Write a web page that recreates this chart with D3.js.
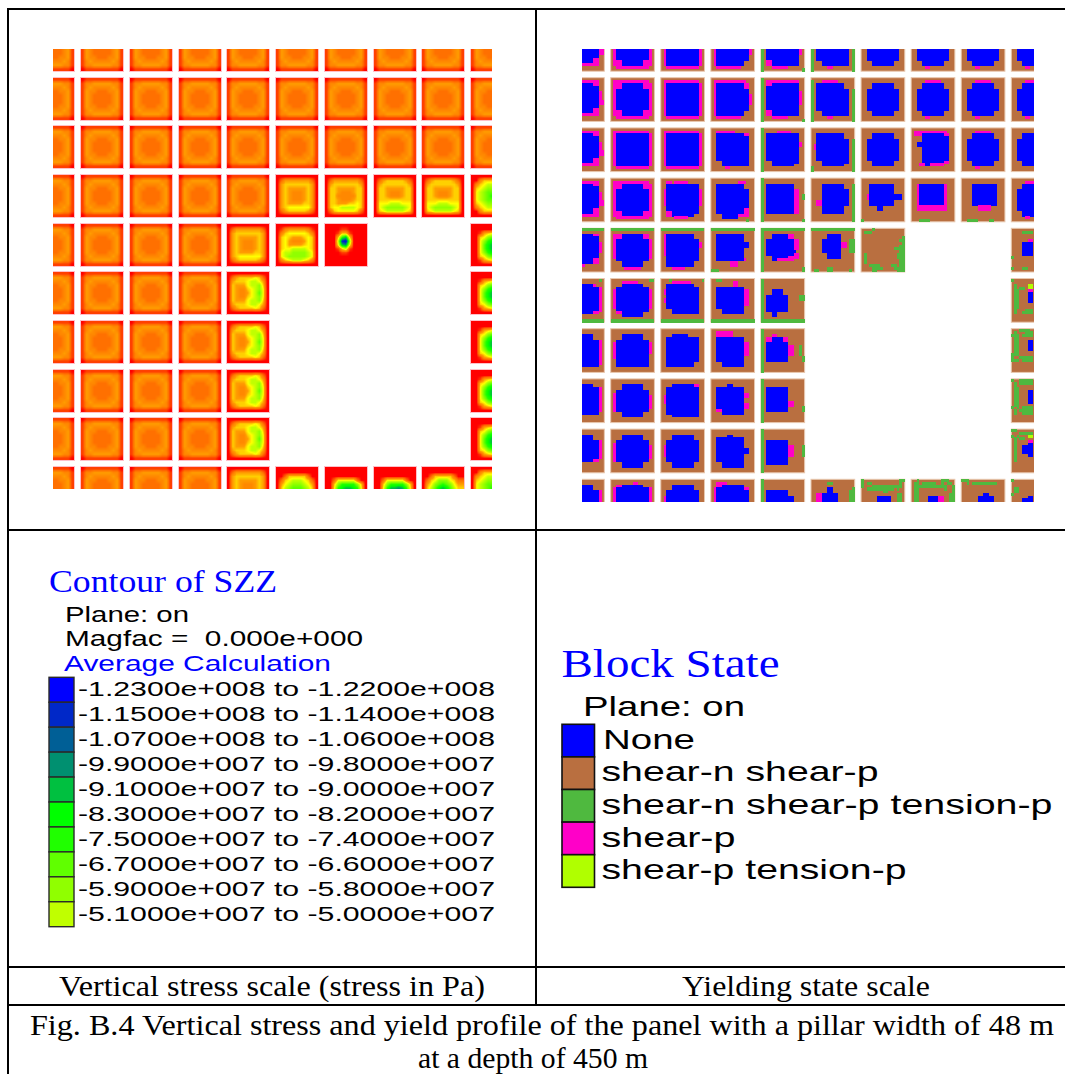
<!DOCTYPE html>
<html><head><meta charset="utf-8">
<script src="https://cdn.jsdelivr.net/npm/d3@7"></script>
<style>html,body{margin:0;background:#fff}svg{display:block}text{white-space:pre}</style></head>
<body><div id="chart"></div>
<script>
// ---------- stress panel data ----------
const stressLevels=[-4e6,-10e6,-18e6,-25e6,-31e6,-37e6,-43e6,-51e6,-59e6,-67e6,-75e6,-83e6,-91e6,-99e6,-107e6,-115e6,-123e6];
const scaleValues=[-123e6,-115e6,-107e6,-99e6,-91e6,-83e6,-75e6,-67e6,-59e6,-51e6,-43e6,-37e6,-31e6,-25e6,-18e6,-10e6,-4e6];
const scaleColors=["#0000ff","#0028c8","#005f96","#009070","#00c040","#00ff00","#20ff00","#60ff00","#90ff00","#c0ff00","#ffff00","#ffd000","#ff9c00","#ff8800","#ff7000","#ff4000","#ff0000"];
const stressTiles={
a:["01111111110","13344444331","13433333431","14332223341","14322222341","14322222341","14322222341","14332223341","13433333431","13344444331","01111111110"],
b:["00000000000","02444444420","04555555540","04544444540","04543334540","04543334540","04543334540","04544445540","04566666640","02455555420","00000000000"],
c:["00000000000","02444444420","04555555540","05544444550","05543334550","05533333550","05543334550","05544455650","05667777650","02566666520","00000000000"],
d:["00000000000","02455555420","04555555540","05544444550","05543334550","05543334550","05555555550","06667776660","06788888760","05677777650","00000000000"],
e:["00000000000","01344444310","03566666530","05654445650","05643334650","05644445650","05667777650","06778888760","06788888760","03567776530","00000000000"],
f:["00000000000","00001100000","00015510000","0005ac50000","0007fg80000","0006cd60000","00015710000","00001100000","00000000000","00000000000","00000000000"],
g:["00000000000","02455556520","04555677640","05444677850","05433567860","05433467960","05433567860","05444677850","04555677640","02455556520","00000000000"],
h:["00000000000","00000000000","00145666541","0056899a965","0068abcba86","0069bcdcb96","0069bcdcb96","0068abcba86","0056899a865","00145666541","00000000000"],
i:["00000000000","00355555530","03567777653","05678888765","06789998876","06789a99876","06789998876","05678888765","03567777653","00355555530","00000000000"],
k:["00000000000","00000000000","00255555200","02567776520","04678887640","05789998750","05789998750","05789998750","04678887640","02567776520","00000000000"],
m:["00000000000","00000000000","00000000000","00266666200","0058aaaa850","006abccba60","006bcddcb60","006bcddcb60","006bcddcb60","006abccba60","00000000000"],
n:["00000000000","00000000000","00000000000","00266666200","0058aaaa850","006accdca60","006bdeedb60","006bdeedb60","006bdeedb60","006abccba60","00000000000"],
o:["00000000000","00000000000","00255555200","0256888652","04689a9864","0579bcb975","0579bcb975","0579bcb975","04689a9864","0256888652","00000000000"]
};
const stressLayout=["aaaaaaaaaa","aaaaaaaaaa","aaaaaaaaaa","aaaaabcddi","aaaabef  h","aaaag    h","aaaag    h","aaaag    h","aaaag    h","aaaabkmnoi"];
const stressLegendLow=[-123e6,-115e6,-107e6,-99e6,-91e6,-83e6,-75e6,-67e6,-59e6,-51e6];
const stressLegendLabels=["-1.2300e+008 to -1.2200e+008","-1.1500e+008 to -1.1400e+008","-1.0700e+008 to -1.0600e+008","-9.9000e+007 to -9.8000e+007","-9.1000e+007 to -9.0000e+007","-8.3000e+007 to -8.2000e+007","-7.5000e+007 to -7.4000e+007","-6.7000e+007 to -6.6000e+007","-5.9000e+007 to -5.8000e+007","-5.1000e+007 to -5.0000e+007"];
// ---------- block state data ----------
const stateKeys=["N",".","G","P","Y"];
const stateNames=["None","shear-n shear-p","shear-n shear-p tension-p","shear-p","shear-p tension-p"];
const stateColors=["#0000ff","#b96f40","#4fb93f","#ff00c8","#b0ff00"];
const E16="................";
const stateTiles={
A:[E16,".PPPPPPPPPPPPP..",".PPPNNNNNNNNPPP.*2",".PNNNNNNNNNNNNP.*8",".PPPNNNNNNNNPPP.*2","..PPPPPPPPPPPP.."],
B:[E16,".PPPPPPPPPPPPP..",".PNNNNNNNNNNNNP.*12","..PPPPPPPPPPPP.."],
C:[E16,".PPPPPPPPPPPP...",".PNNNNNNNNNNPP..*2",".PNNNNNNNNNNNN..*2",".PNNNNNNNNNNNNP.*4",".PNNNNNNNNNNNN..*2",".PNNNNNNNNNN....*2","..PPPPPPPPP....."],
D:["G...............","G.PPPPPPPPPPPP..","G.PPNNNNNNNNNN..","G.NNNNNNNNNNNN..*2","G.NNNNNNNNNNNNP.*5","G.NNNNNNNNNNNN..*2","G.PPNNNNNNNNNN..*2","G...PPPPPP......","G..............G"],
E:[E16,"..PPPPPPP.......","..NNNNNNNNNNPP..","..NNNNNNNNNNNN..*9","....NNNNNNNNNN..*2",".....PP........."],
F:["G...............","G.....PPPPP.....","G.NNNNNNNNNNNN..*3","G.NNNNNNNNNNNNP.*2","G.NNNNNNNNNNNN..*5","G...NNNNNNNNNN..","G...NNNNNNNN....","G...............*2"],
G:[E16,"..PP.PPPPP......","..NNNNNNNNNNNN..*2",".PNNNNNNNNNNNNP.*6","..NNNNNNNNNNNN..*2","..PPNNNNNNNNNN..","..PPNNNNNNNN....",".....PPPPP......"],
H:[E16,"..........PPP...","..NNNNNNNNNN....*2","..NNNNNNNNNNNN..*7","..NNNNNNNNNNPP..*2","....NNNNNNPPPP..","....NNNNNN......",".............G.."],
I:["G...............*2","G.NNNNNNNNNN....*2","G.NNNNNNNNNNPP..*2","G.NNNNNNNNNNPP.G*2","G.NNNNNNNNNNPP..*5","G...............*2","G..............G"],
J:[E16,".....PPPPPP.....","....NNNNNNNN....*2","..NNNNNNNNNNNN..*8","....NNNNNNNN....*2",".....PP........."],
K:[E16+"*2","..NNNNNNNNNN....*2","..NNNNNNNNNNNN.G*2",".PNNNNNNNNNNNN.G*2","..NNNNNNNNNNNN.G*4","....NNNNNNNNNN.G","....NNNNNNNN...G","G..............G*2"],
L:[E16+"*2","....NNNNNNNN....*2","..NNNNNNNNNNNN..*8","....NNNNNNNN....*2"],
M:[E16,".PPPPPPPPPPPP...",".PPPNNNNNNNNPP..","....NNNNNNNNNN..*2","..NNNNNNNNNNNN..*2","....NNNNNNNNNN..*5","....NNNNNNNNPP..","...PPNNPPPPP...."],
N:[E16+"*2","....NNNNNNNN...G*2","....NNNNNNNNNN.G*4","..PPNNNNNNNNNN.G*2","....NNNNNNNN...G*3","...............G*3"],
O:[E16+"*2","...NNNNNNNNN....*4","..PNNNNNNNNNNNN.*2","...NNNNNNNNN....*2","......NN........*2",E16+"*3","G..............."],
P:[E16+"*2","..PNNNNNNNNNP...*8","..PPPPPPPPPPP...*2",E16+"*3","...GGGG........."],
Q:[E16+"*2","....NNNNNNNNN...*8","......PPPPP.....*2",E16+"*3","..GGGG....GG...."],
R:["GGGGGGGGGGGGGGGG",E16,".PPPNNNNNNNNPP..*2",".PNNNNNNNNNNNNP.*7","..NNNNNNNNNNNN..","....NNNNNNNN....*2",".....PPPPPP.....",E16],
S:["GGGGGGGGGGGGGGGG",E16,".PNNNNNNNNNN....*2",".PNNNNNNNNNNNN..",".PNNNNNNNNNNNNP.*2",".PNNNNNNNNNNNN..*3","..NNNNNNNNNNNN..*2","..NNNNNNNNNN....*2","....PPPPP.......",E16],
T:["GGGGGGGGGGGGGGGG",E16,"..NNNNNNNNNN....*3","..NNNNNNNNNNNN..*2","..NNNNNNNNNN....*4","..NNNNNNNNNNP...",".......PPP......*2",E16,"GGG............."],
U:["GGGGGGGGGGGGGGGG","G...............","G...NNNNNNPP....*2","G.NNNNNNNNNNPP..*4","G.NNNNNNNNNNN...","G.NNNNNNNNNNPP..","G...NNNNNNPPPP..","G...NNPPPPPP....","G...............*2","G..............G","G..............G","G.............GG"],
V:["GGGGGGGGGGGGGGGG",E16,"......NNNNN.....*2","....NNNNNNN...GG","....NNNNNNNPP.GG*2","....NNNNNNN...GG*2","......NNNNN.....*2",E16+"*3","......GG........",".GG...GG......G."],
W:["....G...........",".GGG............",E16,"...............G","..............GG","...............G","..............GG","............GGGG","..............GG",".G...........GGG",".G...........GGG",".G............GG",".G............GG","...GGGG....GG.GG","....GGGG....GGGG","....GG.......GGG"],
X:["G...............*4","G...NNNN........*2","G.NNNNNNNN....GG*2","G.NNNNNNNN......*4","G...NN..........*2","G...............","GGGGGGGGGGGGGGGG"],
Y:["G...............*2","G...PP..........","G.PPNNNNPP......*2","G.NNNNNNNN......","G.NNNNNNNNPP..G.*4","G.NNNNNNNN.....G*2","G...............*4"],
Z:["G...............*3","G.NNNNNNNN......*5","G.NNNNNNNNPP....*2","G.NNNNNNNN.....G*2","G...............*4"],
"1":["G...............*4","G.NNNNNNNN......*2","G.NNNNNNNNPP...G*4","G.NNNNNNNN......*3","G...............*3"],
"2":[E16,"G...PPPPPP......","G.NNNNNNNNNN....*2","G.NNNNNNNNNNNN.G*8","G...NNNNNNNNNN.G*2","G.....PP.......G","G..............G"],
a:[E16,".PPPPPPPPPPPPP..","NNNNNNNNNNNNPP..","NNNNNNNNNNNNNN..*2","NNNNNNNNNNNNNNP.*3","NNNNNNNNNNNNNNPP*2","NNNNNNNNNNNNNN..","NNNNNNNNNNNNPP..*2","PPPPPPPPPPPPPP.."],
c:[E16+"*2","NNNNNNNNNNNN....*2","NNNNNNNNNNNNNNP.*9","NNNNNNNNNNNNNN.."],
d:[E16,"PPPPPPP.........","NNNNNNNNNNNN....","NNNNNNNNNNNNNNP.*9","NNNNNNNNNNNNNN.."],
e:[E16+"*2","NNNNNNNNNNNN....*2","NNNNNNNNNNNNNNP.*7","NNNNNNNNNNNNPP..","PPPPPP.........."],
f:[E16,"PPPPPP..........","NNNNNNNNNNNN....*2","NNNNNNNNNNNNNNP.*6"],
g:["GGGGGGGGGGGGGGGG",E16,"NNNNNNNNNNNNPP..","NNNNNNNNNNNNNN..*2","NNNNNNNNNNNNNNP.*4","NNNNNNNNNNNNNN..*2","NNNNNNNNNNNNPP..*2","PPPPPPPPP......."],
h:["......G.......G.","PPPPPPPP........","NNNNNNNNNNNNP...","NNNNNNNNNNNNNNP.*9","NNNNNNNNNNNNPP..",E16,E16,"GGGGGGGGGGGGGGGG"],
i:["..............GG","....PPPPPP......","....NNNNNNNN....","..NNNNNNNNNNNN..",".PNNNNNNNNNNNNP.*7","..NNNNNNNNNNNN..","..PPNNNNNNNN....","....NNNNNNNN....",E16,"GGGGGGGGGGGGGGGG"],
j:["...G...........G","....PPPPPPP.....","..NNNNNNNNNN....","..NNNNNNNNNNNN..",".PNNNNNNNNNNNN..*2","..NNNNNNNNNNNN..",".PNNNNNNNNNNNN..*2","..NNNNNNNNNNNN..*2","....NNNNNNNNNN..*2",E16+"*2","GGGGGGGGGGGGGGGG"],
k:["..GG............","........PP......*2","..NNNNNNNNNN....","..NNNNNNNNNNPP..*6","..NNNNNNNNNN....","....NNNNNNNN....*2",E16+"*2","GGGGGGGGGGGGGGGG"],
l:[E16+"*2","....NNNNNNNN....*2","..NNNNNNNNNNNN..",".PNNNNNNNNNNNNP.*4",".PNNNNNNNNNNNN..*2","..NNNNNNNNNNNN..*3"],
m:[E16+"*2","....NNNNNNNN....*2","..NNNNNNNNNNNN..",".PNNNNNNNNNNNN..",".PNNNNNNNNNNNNP.*5",".PNNNNNNNNNNNN..","....NNNNNNNN....*2"],
o:[E16+"*2","....NNNNNNNNPP..","..NNNNNNNNNNNN..*3",".PNNNNNNNNNNNN..*3","..NNNNNNNNNNNN..*4","....NNNNNNNNNN.."],
p:[E16+"*2","....NNNNNNNN....*2","..NNNNNNNNNNNN..*2",".PNNNNNNNNNNNN..*4","..NNNNNNNNNNNN..*2","....NNNNNNNN....*2"],
q:[E16+"*2","......NN........","..NNNNNNNNNN....*2","..NNNNNNNNNNPP..*2","..NNNNNNNNNN....*2","..NNNNNNNNNNPP..*2","..PPNNNNNNNN....","....NNNNNNNN...."],
r:[E16+"*2","......NN........","..NNNNNNNNNN....*4","..NNNNNNNNNNNN..*2","..NNNNNNNNNN....*3","....NNNNNNNN....*2"],
t:[E16,"..PPPPPP........*2","..NNNNNNNNNN....*2","..NNNNNNNNNNPP..*5","..NNNNNNNNNN....*2","....NNNNNNNN....*2"],
u:[E16+"*2","....NNNNNN......","..NNNNNNNNNNNN..*9","..NNNNNNNNNN....*2"],
v:[E16,"........PP......","..PPNNNNNNNN....",".PNNNNNNNNNNNNP.*6"],
w:[E16+"*2","....NNNNNNNN....*2","..NNNNNNNNNNNN..*2",".PNNNNNNNNNNNN..*3"],
x:[E16,"..PPPP..........","..PPNNNNNNNN....",".PNNNNNNNNNNPP..",".PNNNNNNNNNNNN..*5"],
y:["G...............*4","G.NNNNNNNN......*2","G.NNNNNNNNNN....*3"],
z:[E16,"......GG........",E16,"......NN.......G","......NN......GG","..PPNNNNNN....GG*4"],
"3":["G.............GG","G.GG..........G.","G...GGGGGGGGGGG.","..GGGGGGGGGG.G..","........GG......",".............GG.","......NNNNN..GG.*3"],
"4":["..G........GGG..",".GG.GGGGG..G.GG.",".GGGGGGGGGGGG..G",".GG.........G..G",".GG............G",".GG...........GG",".GG...NNNNPP..GG*3"],
"5":["GGG.............","..G.GGGGGGGGG...",E16,E16,E16,"........NN......","......NNNNNN....*3"],
"6":["G.......","........","........",".GG.....",".GG.....","G.......","......NN","....NNNN","....NNNN"],
"7":["........","....GGGG","........","........","......PP","....NNNN*5","G.......","........","........","........","G...GG.."],
"8":["G.......","........",".G....YY",".G.GG.YY",".GG...PP",".GG...NN*4",".GG.....*2",".G...GGG",".G..GGGG","........"],
"9":["...GGGG.",".G...GGG","GGG.GGGG",".GG.....",".GG...NN",".GG...NN*3",".GG.....","GGG.....","G..GGGGG","GGG.GGGG"],
"0":["G..GGGGG",".G.GGGGG",".G......",".GG.....",".GG...NN*5",".GG.....","G.G.GGGG",".G.GGGGG",".G..GGGG"],
"#":["GG......","...GGGGG","G.G...YY",".G.GG...",".G....PP",".G....NN",".G..NNNN*3",".G....NN",".G......*2","........"]
};
const stateLayout=["aABCD2LJJJ","aABCD2LJJJ","aBBEFKLMJL","aAGHINOPQJ","gRSTUVW  7","hijkX    8","clutY    9","dmoqZ    0","empr1    #","fvwxyz3456"];
const colIndex=d3.range(10), rowIndex=d3.range(10);

// ---------- drawing ----------
const W=1065,H=1074;
const svg=d3.select("#chart").append("svg").attr("width",W).attr("height",H).attr("font-family","'Liberation Sans',Arial,sans-serif");
const colorScale=d3.scaleLinear().domain(scaleValues).range(scaleColors).clamp(true);
const stateColor=d3.scaleOrdinal().domain(stateKeys).range(stateColors);

// Left: stress panel
const sx=d3.scaleLinear().domain([1,9]).range([81,471]);
const sy=d3.scaleLinear().domain([1,9]).range([77.7,467]);
const sTile=42;
svg.append("clipPath").attr("id","clipL").append("rect").attr("x",53).attr("y",49).attr("width",439).attr("height",440);
const canvas=document.createElement("canvas");canvas.width=W;canvas.height=530;
const ctx=canvas.getContext("2d");
const stressCells=[];
rowIndex.forEach(r=>colIndex.forEach(c=>{const k=stressLayout[r][c];if(k&&k!==" ")stressCells.push({r,c,k});}));
const levelOf=ch=>stressLevels[parseInt(ch,17)];
stressCells.forEach(t=>{
  const m=stressTiles[t.k].map(s=>{const a=Array.from(s).map(levelOf);while(a.length<11)a.push(a[a.length-1]);return a;});
  const x0=Math.round(sx(t.c)),y0=Math.round(sy(t.r));
  const n=11,cs=sTile/n;
  for(let py=0;py<sTile;py++)for(let px=0;px<sTile;px++){
    const u=Math.max(0,Math.min(n-1.001,(px+.5)/cs-.5)),v=Math.max(0,Math.min(n-1.001,(py+.5)/cs-.5));
    const i=Math.floor(u),j=Math.floor(v),fu=u-i,fv=v-j;
    const val=d3.interpolateNumber(d3.interpolateNumber(m[j][i],m[j][i+1])(fu),d3.interpolateNumber(m[j+1][i],m[j+1][i+1])(fu))(fv);
    ctx.fillStyle=colorScale(val);ctx.fillRect(x0+px,y0+py,1,1);
  }
});
const gL=svg.append("g").attr("clip-path","url(#clipL)");
gL.selectAll("rect.halo").data(stressCells).join("rect").attr("class","halo")
  .attr("x",d=>Math.round(sx(d.c))-.5).attr("y",d=>Math.round(sy(d.r))-.5).attr("width",sTile+1).attr("height",sTile+1)
  .attr("fill","none").attr("stroke","#ff8a9a").attr("stroke-opacity",.55);
gL.append("image").attr("x",0).attr("y",0).attr("width",W).attr("height",530).attr("href",canvas.toDataURL());

// Right: block state panel
const bx=d3.scaleLinear().domain([1,9]).range([610.7,1011.3]);
const by=d3.scaleLinear().domain([1,9]).range([77.7,479.3]);
const bTile=43.7,cell=d3.scaleBand().domain(d3.range(16)).range([0,bTile]);
svg.append("clipPath").attr("id","clipR").append("rect").attr("x",582).attr("y",49).attr("width",452).attr("height",453);
const gR=svg.append("g").attr("clip-path","url(#clipR)");
const expand=rows=>rows.flatMap(s=>{const p=s.split("*");return Array(p[1]?+p[1]:1).fill(p[0]);});
const stateCells=[];
rowIndex.forEach(r=>colIndex.forEach(c=>{const k=stateLayout[r][c];if(k&&k!==" ")stateCells.push({r,c,k});}));
const runs=[];
stateCells.forEach(t=>{
  expand(stateTiles[t.k]).forEach((row,j)=>{
    let i=0;
    while(i<row.length){
      let e=i;while(e+1<row.length&&row[e+1]===row[i])e++;
      if(row[i]!==".")runs.push({t,j,i,n:e-i+1,s:row[i]});
      i=e+1;
    }
  });
});
gR.selectAll("rect.tile").data(stateCells).join("rect").attr("class","tile")
  .attr("x",d=>bx(d.c)).attr("y",d=>by(d.r)).attr("width",bTile).attr("height",bTile)
  .attr("fill",stateColor(".")).attr("stroke","#e8c8b0").attr("stroke-width",1);
gR.selectAll("rect.run").data(runs).join("rect").attr("class","run")
  .attr("x",d=>bx(d.t.c)+cell(d.i)).attr("y",d=>by(d.t.r)+cell(d.j))
  .attr("width",d=>cell.bandwidth()*d.n).attr("height",cell.bandwidth()+.3)
  .attr("fill",d=>stateColor(d.s)).attr("shape-rendering","crispEdges");

// Table rules
const rules=[[8,8,8,1074],[536,9,536,1005],[8,9,1065,9],[8,530,1065,530],[8,967,1065,967],[8,1005,1065,1005]];
svg.selectAll("line.rule").data(rules).join("line").attr("class","rule")
  .attr("x1",d=>d[0]).attr("y1",d=>d[1]).attr("x2",d=>d[2]).attr("y2",d=>d[3]).attr("stroke","#000").attr("stroke-width",2);

// Text helper
function txt(s,x,y,size,len,fill,serif){
  return svg.append("text").attr("x",x).attr("y",y).attr("font-size",size).attr("fill",fill||"#000")
   .attr("font-family",serif?"'Liberation Serif',serif":null)
   .attr("textLength",len).attr("lengthAdjust","spacingAndGlyphs").text(s);
}
txt("Contour of SZZ",49,592,32,228,"#0000ff",true);
txt("Plane: on",65,622,22,124);
txt("Magfac =  0.000e+000",65,646,22,298);
txt("Average Calculation",64,671,22,267,"#0000ff");
const lgY=d3.scaleBand().domain(d3.range(10)).range([677.3,926.7]);
svg.selectAll("rect.lg1").data(stressLegendLow).join("rect").attr("class","lg1")
  .attr("x",49).attr("y",(d,i)=>lgY(i)).attr("width",25).attr("height",lgY.bandwidth())
  .attr("fill",d=>colorScale(d)).attr("stroke","#2a2a2a").attr("stroke-width",1.4);
stressLegendLabels.forEach((s,i)=>txt(s,78,lgY(i)+19,20,417));

txt("Block State",561.5,677,41,218,"#0000ff",true);
txt("Plane: on",583,716,28,162);
const lgY2=d3.scaleBand().domain(d3.range(5)).range([724.3,887.3]);
svg.selectAll("rect.lg2").data(stateNames).join("rect").attr("class","lg2")
  .attr("x",562).attr("y",(d,i)=>lgY2(i)).attr("width",32.5).attr("height",lgY2.bandwidth())
  .attr("fill",(d,i)=>stateColors[i]).attr("stroke","#111").attr("stroke-width",1.6);
const legendWidths=[92,277,451,134,305];
stateNames.forEach((s,i)=>txt(s,i?601.5:603,748.5+i*32.7,28,legendWidths[i]));

txt("Vertical stress scale (stress in Pa)",59,996,29.5,426,"#000",true);
txt("Yielding state scale",682,996,29.5,248,"#000",true);
txt("Fig. B.4 Vertical stress and yield profile of the panel with a pillar width of 48 m",30,1035,29.5,1024,"#000",true);
txt("at a depth of 450 m",418,1068,29.5,230,"#000",true);
</script></body></html>
